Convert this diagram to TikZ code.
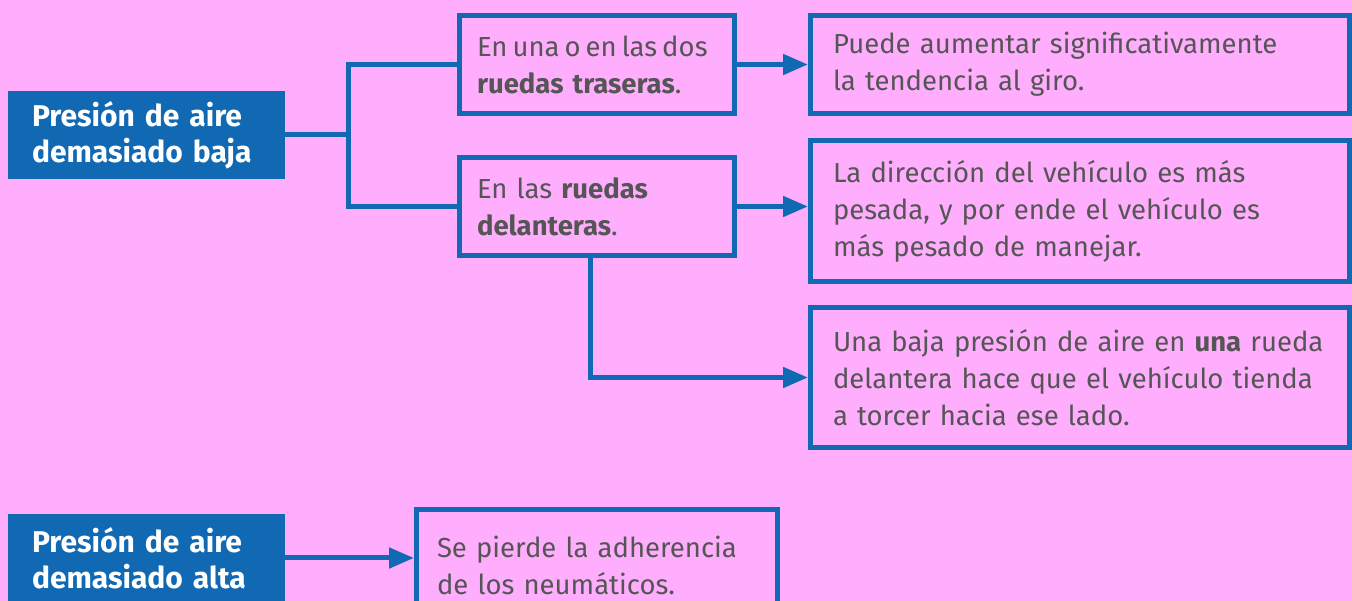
\documentclass[tikz,border=0pt]{standalone}
\usepackage{fontspec}
\setmainfont{Fira Sans}
\usetikzlibrary{arrows.meta}
\hbadness=10000 \hfuzz=40pt
\definecolor{bgpink}{RGB}{255,173,253}
\definecolor{mblue}{RGB}{17,105,180}
\definecolor{tgray}{RGB}{85,85,85}
\tikzset{
  x=1pt,y=1pt,
  txt/.style={font=\fontsize{27.5}{37}\selectfont, text=tgray, align=left},
  outbox/.style={txt, draw=mblue, line width=5pt, fill=bgpink, inner ysep=0pt},
  headbox/.style={fill=mblue, draw=none, text=white, font=\bfseries\fontsize{30}{36}\selectfont, align=left, inner ysep=0pt},
  conn/.style={draw=mblue, line width=5pt},
  arr/.style={conn, -{Triangle[length=25pt,width=20pt]}},
}
\begin{document}
\begin{tikzpicture}
\fill[bgpink] (0,0) rectangle (1352,601);
\useasboundingbox (0,0) rectangle (1352,601);

% header boxes
\node[headbox, minimum width=277pt, minimum height=88pt, text width=229pt, inner xsep=24pt] (A) at (146.5,466) {Presión de aire\\demasiado baja};
\node[headbox, minimum width=277pt, minimum height=88pt, text width=229pt, inner xsep=24pt] (G) at (146.5,43) {Presión de aire\\demasiado alta};

% middle boxes
\node[outbox, minimum width=275pt, minimum height=98pt, text width=240pt, inner xsep=17.5pt] (B) at (597,536.5) {\mbox{\spaceskip=5pt En una o en las dos}\\\textbf{ruedas traseras}.};
\node[outbox, minimum width=275pt, minimum height=98pt, text width=240pt, inner xsep=17.5pt] (D) at (597,394.5) {En las \textbf{ruedas}\\\textbf{delanteras}.};

% right boxes
\node[outbox, minimum width=539pt, minimum height=98pt, text width=494pt, inner xsep=22.5pt] (C) at (1080,536.5) {Puede aumentar significativamente\\la tendencia al giro.};
\node[outbox, minimum width=539pt, minimum height=141pt, text width=494pt, inner xsep=22.5pt] (E) at (1080,390) {La dirección del vehículo es más\\pesada, y por ende el vehículo es\\más pesado de manejar.};
\node[outbox, minimum width=539pt, minimum height=140pt, text width=494pt, inner xsep=22.5pt] (F) at (1080,223.5) {Una baja presión de aire en \textbf{una} rueda\\delantera hace que el vehículo tienda\\a torcer hacia ese lado.};

% bottom result box
\node[outbox, minimum width=361pt, minimum height=111pt, text width=320pt, inner xsep=20.5pt] (H) at (597,36) {Se pierde la adherencia\\de los neumáticos.};

% connectors
\coordinate (j1) at (348,466);
\coordinate (j2) at (590,0);
\draw[conn] (A.east) -- (j1);
\draw[conn] (B.west) -| (j1) |- (D.west);
\draw[arr] (B.east) -- (C.west);
\draw[arr] (D.east) -- (D.east -| E.west);
\draw[arr] (D.south -| j2) |- (F.west);
\draw[arr] (G.east) -- (G.east -| H.west);
\end{tikzpicture}
\end{document}
